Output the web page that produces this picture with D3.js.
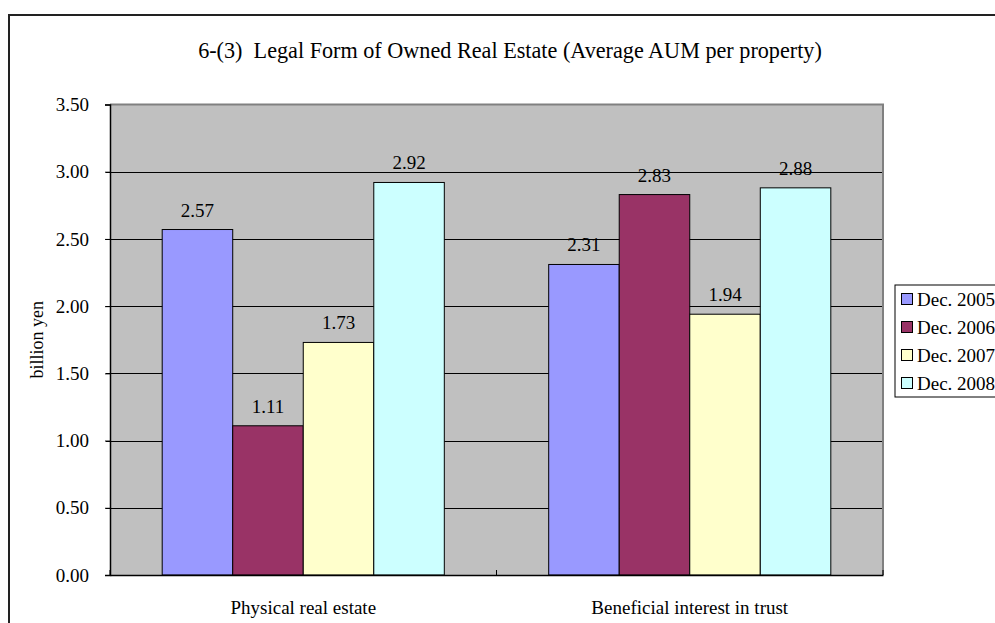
<!DOCTYPE html>
<html>
<head>
<meta charset="utf-8">
<script src="https://cdn.jsdelivr.net/npm/d3@7"></script>
<style>
  body { margin: 0; background: #fff; }
  svg text { font-family: "Liberation Serif", "Times New Roman", serif !important; fill: #000; }
</style>
</head>
<body>
<svg id="chart"></svg>
<script>
var width = 995;
var height = 623;

// data
var categories = ["Physical real estate", "Beneficial interest in trust"];
var seriesNames = ["Dec. 2005", "Dec. 2006", "Dec. 2007", "Dec. 2008"];
var physical = [2.57, 1.11, 1.73, 2.92];
var trust = [2.31, 2.83, 1.94, 2.88];
var yTicks = [0, 0.5, 1, 1.5, 2, 2.5, 3, 3.5];
var colors = ["#9999FF", "#993366", "#FFFFCC", "#CCFFFF"];

var rows = [physical, trust];

var plot = { left: 110, top: 104.5, right: 883, bottom: 575 };
var fs = 19;

var svg = d3.select("#chart")
  .attr("width", width)
  .attr("height", height);

// outer chart border
svg.append("rect")
  .attr("x", 9).attr("y", 15)
  .attr("width", 1000).attr("height", 700)
  .attr("fill", "#fff")
  .attr("stroke", "#222")
  .attr("stroke-width", 2);

// title
svg.append("text")
  .attr("x", 510).attr("y", 58)
  .attr("text-anchor", "middle")
  .attr("font-size", 22.2)
  .attr("xml:space", "preserve")
  .text("6-(3)  Legal Form of Owned Real Estate (Average AUM per property)");

var y = d3.scaleLinear()
  .domain([0, 3.5])
  .range([plot.bottom, plot.top]);

var x0 = d3.scaleBand()
  .domain(categories)
  .range([plot.left, plot.right]);

var x1 = d3.scaleBand()
  .domain(seriesNames)
  .range([0, x0.bandwidth()])
  .paddingOuter(0.74);

// plot area background
svg.append("rect")
  .attr("x", plot.left).attr("y", plot.top)
  .attr("width", plot.right - plot.left)
  .attr("height", plot.bottom - plot.top)
  .attr("fill", "#C0C0C0");

// gridlines
svg.append("g")
  .selectAll("line")
  .data(yTicks.filter(d => d > 0 && d < 3.5))
  .join("line")
  .attr("x1", plot.left - 4).attr("x2", plot.right)
  .attr("y1", d => Math.round(y(d)) + 0.5)
  .attr("y2", d => Math.round(y(d)) + 0.5)
  .attr("stroke", "#000")
  .attr("stroke-width", 1);

// plot area frame: gray on top/right
svg.append("path")
  .attr("d", "M" + plot.left + "," + plot.top + "H" + plot.right + "V" + plot.bottom)
  .attr("fill", "none")
  .attr("stroke", "#808080")
  .attr("stroke-width", 2);

// bars
var groups = svg.append("g")
  .selectAll("g")
  .data(categories)
  .join("g")
  .attr("transform", d => "translate(" + x0(d) + ",0)");

groups.selectAll("rect")
  .data((d, i) => rows[i].map((v, j) => ({ name: seriesNames[j], value: v, color: colors[j] })))
  .join("rect")
  .attr("x", d => x1(d.name))
  .attr("y", d => y(d.value))
  .attr("width", x1.bandwidth())
  .attr("height", d => y(0) - y(d.value))
  .attr("fill", d => d.color)
  .attr("stroke", "#000")
  .attr("stroke-width", 1);

groups.selectAll("text")
  .data((d, i) => rows[i].map((v, j) => ({ name: seriesNames[j], value: v })))
  .join("text")
  .attr("x", d => x1(d.name) + x1.bandwidth() / 2)
  .attr("y", d => y(d.value) - 13)
  .attr("text-anchor", "middle")
  .attr("font-size", fs)
  .text(d => d.value.toFixed(2));

// y axis
var yAxis = d3.axisLeft(y)
  .tickValues(yTicks)
  .tickSize(5)
  .tickPadding(16)
  .tickFormat(d3.format(".2f"));

var gy = svg.append("g")
  .attr("transform", "translate(" + plot.left + ",0)")
  .call(yAxis);
gy.select(".domain").attr("stroke", "#000").attr("stroke-width", 1.5);
gy.selectAll("text").attr("font-size", fs);

// x axis
var xAxis = d3.axisBottom(x0)
  .tickSize(0)
  .tickPadding(26);

var gx = svg.append("g")
  .attr("transform", "translate(0," + plot.bottom + ")")
  .call(xAxis);
gx.select(".domain").attr("stroke", "#000").attr("stroke-width", 1.5);
gx.selectAll("text").attr("font-size", fs);

// category divider ticks
gx.selectAll(".divider")
  .data([plot.left, x0(categories[1]), plot.right])
  .join("line")
  .attr("class", "divider")
  .attr("x1", d => d).attr("x2", d => d)
  .attr("y1", 0).attr("y2", -5)
  .attr("stroke", "#000");

// y axis title
svg.append("text")
  .attr("transform", "translate(43," + (plot.top + plot.bottom) / 2 + ") rotate(-90)")
  .attr("text-anchor", "middle")
  .attr("font-size", 18)
  .text("billion yen");

// legend
var legend = svg.append("g")
  .attr("transform", "translate(895,285)");

legend.append("rect")
  .attr("x", 0).attr("y", 0)
  .attr("width", 200).attr("height", 112)
  .attr("fill", "#fff")
  .attr("stroke", "#000")
  .attr("stroke-width", 1);

var items = legend.selectAll(".item")
  .data(seriesNames)
  .join("g")
  .attr("class", "item")
  .attr("transform", (d, i) => "translate(0," + (14 + i * 28) + ")");

items.append("rect")
  .attr("x", 6.5).attr("y", -5.5)
  .attr("width", 11).attr("height", 11)
  .attr("fill", (d, i) => colors[i])
  .attr("stroke", "#000");

items.append("text")
  .attr("x", 22).attr("y", 6.5)
  .attr("font-size", fs)
  .text(d => d);
</script>
</body>
</html>
